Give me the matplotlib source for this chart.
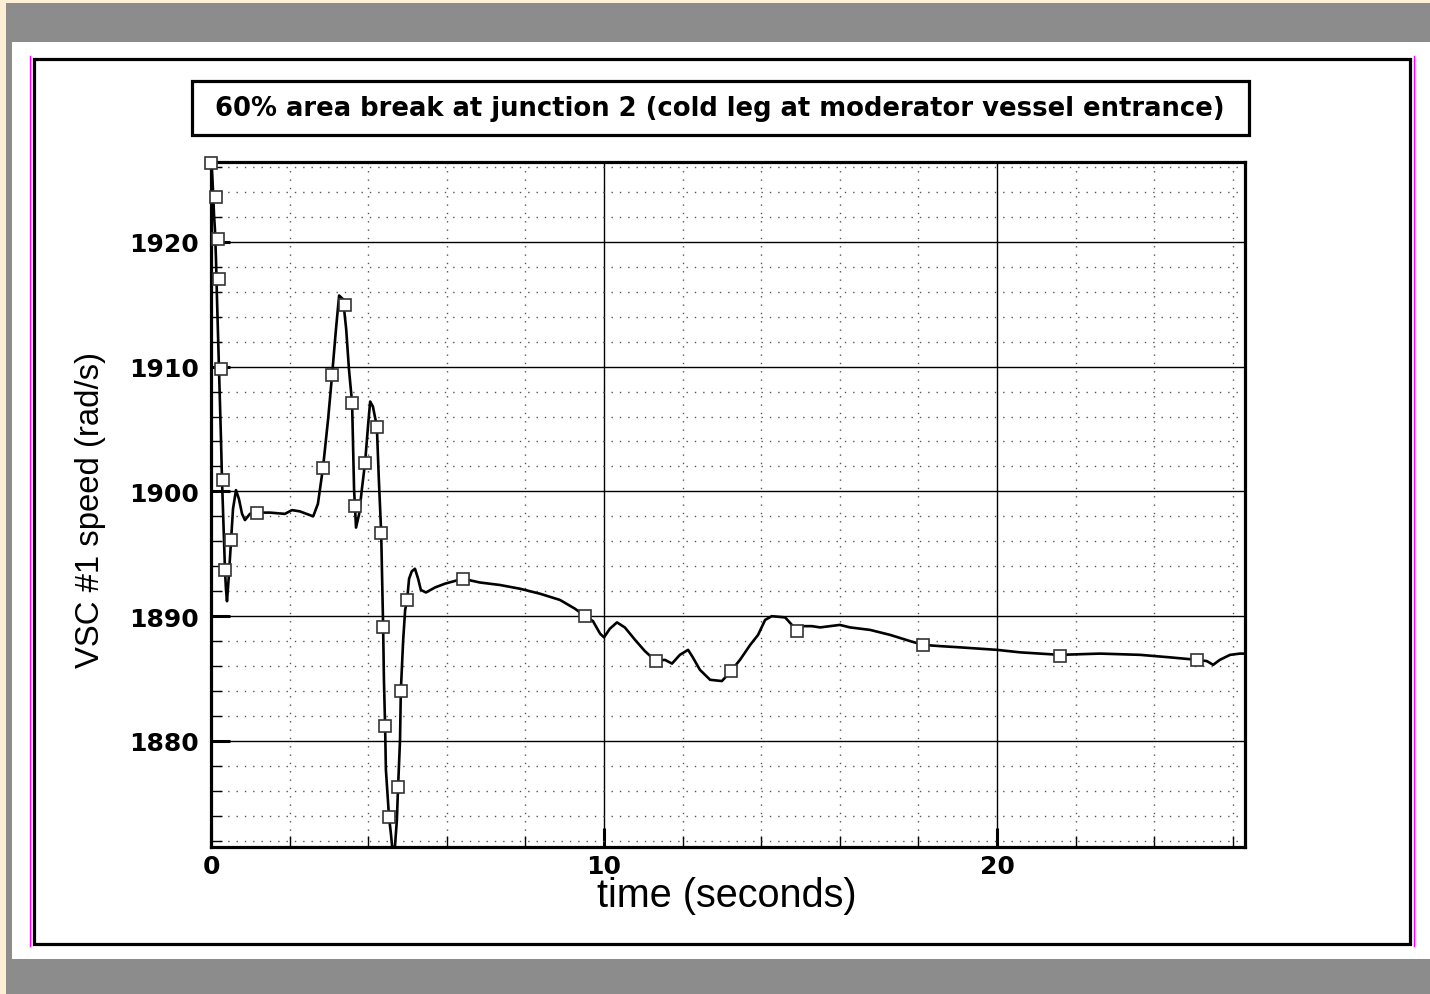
import numpy as np
import matplotlib
matplotlib.use("Agg")
import matplotlib.pyplot as plt
from matplotlib.patches import Rectangle
from matplotlib.ticker import MultipleLocator

# VSC #1 speed trace
time_s = [0.0, 0.025, 0.05, 0.076, 0.10, 0.127, 0.153, 0.204, 0.254, 0.28, 0.33, 0.356, 0.38, 0.407,
          0.458, 0.51, 0.56, 0.636, 0.71, 0.79, 0.865, 0.99, 1.17, 1.50, 1.88, 2.06, 2.26, 2.60,
          2.72, 2.85, 2.98, 3.08, 3.18, 3.26, 3.36, 3.44, 3.51, 3.59, 3.61, 3.64, 3.69, 3.77,
          3.84, 3.92, 4.0, 4.05, 4.12, 4.22, 4.27, 4.33, 4.38, 4.40, 4.43, 4.45, 4.50, 4.53,
          4.58, 4.61, 4.68, 4.73, 4.76, 4.81, 4.83, 4.89, 4.94, 4.99, 5.04, 5.11, 5.19, 5.27,
          5.34, 5.47, 5.70, 5.95, 6.41, 6.84, 7.35, 7.86, 8.37, 8.88, 9.26, 9.52, 9.72, 9.90,
          10.0, 10.15, 10.33, 10.53, 10.79, 11.04, 11.32, 11.55, 11.73, 11.93, 12.14, 12.26,
          12.44, 12.70, 13.0, 13.23, 13.46, 13.72, 13.92, 14.10, 14.27, 14.61, 14.78, 14.91,
          15.06, 15.29, 15.50, 16.0, 16.26, 16.77, 17.28, 17.79, 18.12, 18.55, 19.06, 20.0,
          20.59, 21.60, 22.62, 23.64, 24.40, 25.09, 25.34, 25.50, 25.67, 25.93, 26.18, 26.31]
speed = [1926.3, 1925.7, 1924.2, 1922.2, 1921.0, 1918.6, 1915.4, 1909.8, 1904.2, 1900.9, 1896.2, 1893.7,
         1892.2, 1891.2, 1893.4, 1896.1, 1898.6, 1900.1, 1899.4, 1898.2, 1897.7, 1898.2, 1898.3, 1898.3,
         1898.2, 1898.5, 1898.4, 1898.0, 1899.0, 1901.9, 1905.8, 1909.3, 1913.0, 1915.7, 1915.4, 1913.0,
         1909.8, 1907.1, 1904.2, 1900.2, 1897.1, 1898.2, 1900.2, 1902.3, 1905.4, 1907.2, 1906.8, 1905.2,
         1901.0, 1896.7, 1889.1, 1884.9, 1881.2, 1877.7, 1875.3, 1873.9, 1872.5, 1871.5, 1871.5, 1873.7,
         1876.3, 1880.1, 1884.0, 1888.1, 1890.5, 1891.3, 1893.0, 1893.6, 1893.8, 1893.0, 1892.1, 1891.9,
         1892.3, 1892.6, 1893.0, 1892.7, 1892.5, 1892.2, 1891.8, 1891.3, 1890.6, 1890.0, 1889.6, 1888.6,
         1888.3, 1889.0, 1889.5, 1889.1, 1888.1, 1887.2, 1886.4, 1886.5, 1886.2, 1886.9, 1887.3, 1886.7,
         1885.7, 1884.9, 1884.8, 1885.6, 1886.5, 1887.7, 1888.5, 1889.7, 1890.0, 1889.9, 1889.3, 1888.9,
         1889.2, 1889.2, 1889.1, 1889.3, 1889.1, 1888.9, 1888.5, 1888.0, 1887.7, 1887.6, 1887.5, 1887.3,
         1887.1, 1886.9, 1887.0, 1886.9, 1886.7, 1886.5, 1886.4, 1886.1, 1886.5, 1886.9, 1887.0, 1887.0]

# open square symbols along the curve
mark_t = [0.0, 0.127, 0.178, 0.204, 0.254, 0.305, 0.356, 0.509, 1.17, 2.85, 3.08, 3.41, 3.59, 3.66,
          3.92, 4.22, 4.33, 4.38, 4.43, 4.53, 4.76, 4.83, 4.99, 6.41, 9.52, 11.32, 13.23, 14.91,
          18.12, 21.60, 25.09]
mark_v = [1926.3, 1923.6, 1920.2, 1917.0, 1909.8, 1900.9, 1893.7, 1896.1, 1898.3, 1901.9, 1909.3, 1914.9,
          1907.1, 1898.8, 1902.3, 1905.2, 1896.7, 1889.1, 1881.2, 1873.9, 1876.3, 1884.0, 1891.3, 1893.0,
          1890.0, 1886.4, 1885.6, 1888.8, 1887.7, 1886.8, 1886.5]

title = "60% area break at junction 2 (cold leg at moderator vessel entrance)"

W, H = 1430, 995
fig = plt.figure(figsize=(W / 100, H / 100), dpi=100)
fig.patch.set_facecolor("#fcefd6")


def fx(x):
    return x / W


def fy(y):
    return 1 - y / H


def rect(x0, y0, x1, y1, **kw):
    fig.patches.append(Rectangle((fx(x0), fy(y1)), fx(x1) - fx(x0), fy(y0) - fy(y1),
                                 transform=fig.transFigure, figure=fig, **kw))


# page decoration (kept underneath the axes)
rect(6, 4, W, H, facecolor="#8c8c8c", edgecolor="none", zorder=-5)
rect(12, 43, W, 960, facecolor="white", edgecolor="none", zorder=-4)
fig.add_artist(plt.Line2D([fx(29.5), fx(29.5)], [fy(57), fy(947)], color="magenta", lw=1, zorder=-3))
fig.add_artist(plt.Line2D([fx(1413.5), fx(1413.5)], [fy(57), fy(947)], color="magenta", lw=1, zorder=-3))
rect(33.5, 59.5, 1409.5, 944.5, facecolor="none", edgecolor="black", lw=2.3, zorder=-2)
rect(191.5, 81.5, 1248.5, 135.5, facecolor="white", edgecolor="black", lw=2.3, zorder=-1)

ax = fig.add_axes([fx(211), fy(848), fx(1245) - fx(211), fy(163) - fy(848)])
ax.set_zorder(2)
ax.set_xlim(0, 26.31)
ax.set_ylim(1871.5, 1926.4)

ax.xaxis.set_major_locator(MultipleLocator(10))
ax.xaxis.set_minor_locator(MultipleLocator(2))
ax.yaxis.set_major_locator(MultipleLocator(10))
ax.yaxis.set_minor_locator(MultipleLocator(2))
ax.grid(which="major", color="black", lw=1.0, ls="-")
ax.grid(which="minor", color="#555555", lw=1.0, ls=(0, (1, 5)))
ax.set_axisbelow(True)

ax.plot(time_s, speed, color="black", lw=1.9, zorder=3)
ax.plot(mark_t, mark_v, ls="none", marker="s", ms=8.5, mfc="white", mec="#333333", mew=1.2,
        zorder=4, clip_on=False)

for s in ax.spines.values():
    s.set_linewidth(2.3)

ax.tick_params(which="both", direction="in", top=False, right=False, color="black")
ax.tick_params(which="major", length=14, width=2.2, labelsize=18, pad=9)
ax.tick_params(which="minor", length=8, width=1.0)
for lab in ax.get_xticklabels() + ax.get_yticklabels():
    lab.set_fontweight("bold")
    lab.set_family("DejaVu Sans")
ax.tick_params(axis="x", pad=5)

# title in its box
tt = fig.text(fx(720), fy(109), title, ha="center", va="center", fontsize=17,
              fontweight="bold", family="DejaVu Sans")

xl = fig.text(fx(727), fy(896), "time (seconds)", ha="center", va="center", fontsize=20,
              family="Liberation Sans")
yl = fig.text(fx(90), fy(510), "VSC #1 speed (rad/s)", ha="center", va="center", fontsize=20,
              family="Liberation Sans", rotation=90)

# scale text to the widths seen in the picture
fig.canvas.draw()
r = fig.canvas.get_renderer()
for t, target, horiz in [(tt, 1009, True), (xl, 260, True), (yl, 316, False)]:
    bb = t.get_window_extent(r)
    size = bb.width if horiz else bb.height
    t.set_fontsize(t.get_fontsize() * target / size)

fig.savefig("out.png", dpi=100, facecolor=fig.get_facecolor())
